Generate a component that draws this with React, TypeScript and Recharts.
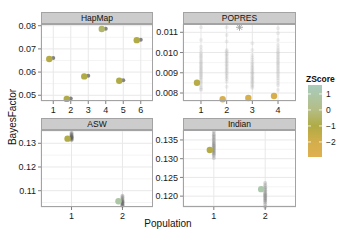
import { ScatterChart, Scatter, XAxis, YAxis, CartesianGrid } from "recharts";

// HapMap
const hapmapPops = [1, 2, 3, 4, 5, 6];
const hapmapBF = [0.06565, 0.04843, 0.05813, 0.07857, 0.05626, 0.07378];
const hapmapZ = [-1.1, -1.0, -1.0, -0.4, -1.0, -1.0];
const hapmapNull = [0.06609, 0.04857, 0.05843, 0.0787, 0.05652, 0.07391];

// POPRES
const popresPops = [1, 2, 3, 4];
const popresBF = [0.008509, 0.007689, 0.007753, 0.007852];
const popresZ = [-1.2, -2.4, -2.3, -2.2];
const popresNull1 = [
  0.01125, 0.01062, 0.01029, 0.01012, 0.00998, 0.0099, 0.00982, 0.00975, 0.00966, 0.00958,
  0.00951, 0.00944, 0.00938, 0.00931, 0.00925, 0.00919, 0.00913, 0.00906, 0.00899, 0.00893,
  0.00886, 0.00879, 0.00874, 0.00866, 0.00857, 0.00849, 0.00838, 0.00829, 0.0082, 0.00815,
];
const popresNull2 = [
  0.01125, 0.01087, 0.01054, 0.01013, 0.01006, 0.00998, 0.00991, 0.00985, 0.00978, 0.0097,
  0.00963, 0.00957, 0.00949, 0.00942, 0.00936, 0.00929, 0.00921, 0.00914, 0.00907, 0.00899,
  0.00892, 0.00884, 0.00876, 0.00868, 0.00856, 0.00831,
];
const popresNull3 = [
  0.01046, 0.01013, 0.00988, 0.00976, 0.00965, 0.00955, 0.00946, 0.00938, 0.0093, 0.00923,
  0.00916, 0.00909, 0.00902, 0.00896, 0.0089, 0.00883, 0.00877, 0.00871, 0.00864, 0.00858,
  0.00852, 0.00845, 0.00838, 0.00831, 0.00825,
];
const popresNull4 = [
  0.0112, 0.01095, 0.01062, 0.01037, 0.01022, 0.01011, 0.01002, 0.00994, 0.00986, 0.00978,
  0.0097, 0.00963, 0.00955, 0.00948, 0.00941, 0.00933, 0.00925, 0.00917, 0.00909, 0.00901,
  0.00892, 0.00883, 0.00873, 0.00862, 0.0085, 0.00838, 0.00815,
];
const popresStarX = [2.5];
const popresStarY = [0.01125];

// ASW
const aswPops = [1, 2];
const aswBF = [0.13196, 0.10554];
const aswZ = [-1.0, 0.9];
const aswNull1 = [0.1344, 0.134, 0.1336, 0.1333, 0.133, 0.1328, 0.1326, 0.1324, 0.1322, 0.132, 0.1318, 0.1316, 0.1313];
const aswNull2 = [0.1079, 0.1072, 0.1066, 0.1061, 0.1057, 0.1054, 0.1051, 0.1048, 0.1045, 0.1042, 0.1039, 0.1037];

// Indian
const indianPops = [1, 2];
const indianBF = [0.13232, 0.12187];
const indianZ = [-1.1, 1.1];
const indianNull1 = [
  0.1372, 0.1366, 0.1362, 0.1358, 0.1354, 0.135, 0.1346, 0.1342, 0.1339, 0.1336,
  0.1333, 0.133, 0.1327, 0.1324, 0.1321, 0.1318, 0.1315, 0.1312, 0.1308, 0.1302,
];
const indianNull2 = [
  0.1235, 0.1229, 0.1224, 0.122, 0.1216, 0.1212, 0.1208, 0.1205, 0.1202, 0.1199,
  0.1196, 0.1193, 0.119, 0.1187, 0.1183, 0.1178, 0.1171,
];

// axis ticks
const hapmapYTicks = [0.05, 0.06, 0.07, 0.08];
const hapmapYLabels = ["0.05", "0.06", "0.07", "0.08"];
const hapmapYMinor = [0.055, 0.065, 0.075];
const popresYTicks = [0.008, 0.009, 0.01, 0.011];
const popresYLabels = ["0.008", "0.009", "0.010", "0.011"];
const popresYMinor = [0.0085, 0.0095, 0.0105];
const aswYTicks = [0.11, 0.12, 0.13];
const aswYLabels = ["0.11", "0.12", "0.13"];
const aswYMinor = [0.105, 0.115, 0.125, 0.135];
const indianYTicks = [0.12, 0.125, 0.13, 0.135];
const indianYLabels = ["0.120", "0.125", "0.130", "0.135"];
const indianYMinor = [0.1175, 0.1225, 0.1275, 0.1325, 0.1375];

// colour scale
const zStops = [-2.94, -2, -1, 0, 1.56];
const zColors = ["#dfb050", "#d3ae4b", "#b0ab45", "#b4bd84", "#a8ccbe"];
const zLegendTicks = [1, 0, -1, -2];
const zLegendLabels = ["1", "0", "\u22121", "\u22122"];

const FONT = "'Liberation Sans', Arial, sans-serif";
const YW = 41;
const XH = 22;
const PAD = 8; // room above the plot so the top tick label is not clipped

function hex(c: string) {
  return [1, 3, 5].map((i) => parseInt(c.slice(i, i + 2), 16));
}

function zColor(z: number) {
  let i = 0;
  while (i < zStops.length - 2 && z > zStops[i + 1]) i++;
  const t = Math.max(0, Math.min(1, (z - zStops[i]) / (zStops[i + 1] - zStops[i])));
  const a = hex(zColors[i]);
  const b = hex(zColors[i + 1]);
  const m = a.map((v, k) => Math.round(v + (b[k] - v) * t));
  return `rgb(${m[0]},${m[1]},${m[2]})`;
}

type Pt = { x: number; y: number; color?: string };

function observed(pops: number[], bf: number[], z: number[]): Pt[] {
  return pops.map((p, i) => ({ x: p, y: bf[i], color: zColor(z[i]) }));
}

function nulls(groups: [number, number[]][]): Pt[] {
  return groups.flatMap(([p, vals]) => vals.map((v) => ({ x: p, y: v })));
}

type PanelProps = {
  title: string;
  left: number;
  top: number;
  width: number;
  height: number;
  xDomain: [number, number];
  xTicks: number[];
  yDomain: [number, number];
  yTicks: number[];
  yLabels: string[];
  yMinor: number[];
  obs: Pt[];
  nul: Pt[];
  nullFill: string;
  nullOpacity: number;
  stars?: Pt[];
};

function Panel(p: PanelProps) {
  const grayDot = (s: any) => (
    <circle cx={s.cx} cy={s.cy} r={2} fill={p.nullFill} fillOpacity={p.nullOpacity} />
  );
  const colorDot = (s: any) => (
    <circle cx={s.cx - 4} cy={s.cy} r={3.2} fill={s.payload.color} />
  );
  const star = (s: any) => {
    const r = 3.5;
    const d = r * 0.707;
    return (
      <g stroke="#a6a6a6" strokeWidth={1}>
        <line x1={s.cx - r} y1={s.cy} x2={s.cx + r} y2={s.cy} />
        <line x1={s.cx} y1={s.cy - r} x2={s.cx} y2={s.cy + r} />
        <line x1={s.cx - d} y1={s.cy - d} x2={s.cx + d} y2={s.cy + d} />
        <line x1={s.cx - d} y1={s.cy + d} x2={s.cx + d} y2={s.cy - d} />
      </g>
    );
  };
  const tickStyle = { fontSize: 9, fill: "#1a1a1a", fontFamily: FONT };
  return (
    <>
      <div style={{ position: "absolute", left: p.left - YW, top: p.top - PAD }}>
        <ScatterChart
          width={p.width + YW}
          height={p.height + XH + PAD}
          margin={{ top: PAD, right: 0, bottom: 0, left: 0 }}
        >
          <CartesianGrid vertical={false} horizontalValues={p.yMinor} stroke="#f4f4f4" />
          <CartesianGrid stroke="#e8e8e8" />
          <XAxis
            type="number"
            dataKey="x"
            domain={p.xDomain}
            ticks={p.xTicks}
            interval={0}
            axisLine={false}
            tickSize={3}
            tickMargin={3}
            height={XH}
            tick={tickStyle}
            tickLine={{ stroke: "#7f7f7f" }}
          />
          <YAxis
            type="number"
            dataKey="y"
            domain={p.yDomain}
            ticks={p.yTicks}
            interval={0}
            tickFormatter={(v: number) => p.yLabels[p.yTicks.indexOf(v)] ?? String(v)}
            axisLine={false}
            tickSize={3}
            tickMargin={2}
            width={YW}
            tick={tickStyle}
            tickLine={{ stroke: "#7f7f7f" }}
          />
          <Scatter data={p.nul} shape={grayDot} isAnimationActive={false} />
          {p.stars && <Scatter data={p.stars} shape={star} isAnimationActive={false} />}
          <Scatter data={p.obs} shape={colorDot} isAnimationActive={false} />
        </ScatterChart>
      </div>
      <div
        style={{
          position: "absolute",
          left: p.left,
          top: p.top,
          width: p.width,
          height: p.height,
          boxSizing: "border-box",
          border: "1px solid #a3a3a3",
          pointerEvents: "none",
        }}
      />
      <div
        style={{
          position: "absolute",
          left: p.left,
          top: p.top - 12.5,
          width: p.width,
          height: 12.5,
          boxSizing: "border-box",
          background: "#cccccc",
          border: "1px solid #a3a3a3",
          fontSize: 8.5,
          lineHeight: "11px",
          textAlign: "center",
          color: "#111",
          fontFamily: FONT,
        }}
      >
        {p.title}
      </div>
    </>
  );
}

export default function App() {
  const lgTop = 85;
  const lgBottom = 157;
  const zMax = zStops[zStops.length - 1];
  const zMin = zStops[0];
  const zy = (z: number) => lgTop + ((zMax - z) / (zMax - zMin)) * (lgBottom - lgTop);

  return (
    <div
      style={{
        position: "absolute",
        left: 0,
        top: 0,
        width: 360,
        height: 240,
        background: "#fff",
        overflow: "hidden",
        fontFamily: FONT,
      }}
    >
      <Panel
        title="HapMap"
        left={41}
        top={24}
        width={112}
        height={77}
        xDomain={[0.3, 6.7]}
        xTicks={hapmapPops}
        yDomain={[0.04752, 0.08074]}
        yTicks={hapmapYTicks}
        yLabels={hapmapYLabels}
        yMinor={hapmapYMinor}
        obs={observed(hapmapPops, hapmapBF, hapmapZ)}
        nul={hapmapPops.map((x, i) => ({ x, y: hapmapNull[i] }))}
        nullFill="#777777"
        nullOpacity={0.9}
      />
      <Panel
        title="POPRES"
        left={183}
        top={24}
        width={113}
        height={77}
        xDomain={[0.3, 4.7]}
        xTicks={popresPops}
        yDomain={[0.007605, 0.01141]}
        yTicks={popresYTicks}
        yLabels={popresYLabels}
        yMinor={popresYMinor}
        obs={observed(popresPops, popresBF, popresZ)}
        nul={nulls([
          [1, popresNull1],
          [2, popresNull2],
          [3, popresNull3],
          [4, popresNull4],
        ])}
        nullFill="#7a7a7a"
        nullOpacity={0.11}
        stars={popresStarX.map((x, i) => ({ x, y: popresStarY[i] }))}
      />
      <Panel
        title="ASW"
        left={41}
        top={130}
        width={112}
        height={77}
        xDomain={[0.4, 2.6]}
        xTicks={aswPops}
        yDomain={[0.10312, 0.13561]}
        yTicks={aswYTicks}
        yLabels={aswYLabels}
        yMinor={aswYMinor}
        obs={observed(aswPops, aswBF, aswZ)}
        nul={nulls([
          [1, aswNull1],
          [2, aswNull2],
        ])}
        nullFill="#555555"
        nullOpacity={0.28}
      />
      <Panel
        title="Indian"
        left={183}
        top={130}
        width={113}
        height={77}
        xDomain={[0.4, 2.6]}
        xTicks={indianPops}
        yDomain={[0.11715, 0.13766]}
        yTicks={indianYTicks}
        yLabels={indianYLabels}
        yMinor={indianYMinor}
        obs={observed(indianPops, indianBF, indianZ)}
        nul={nulls([
          [1, indianNull1],
          [2, indianNull2],
        ])}
        nullFill="#555555"
        nullOpacity={0.22}
      />
      <svg
        width={360}
        height={240}
        style={{ position: "absolute", left: 0, top: 0, pointerEvents: "none" }}
      >
        <defs>
          <linearGradient id="zgrad" x1="0" y1="0" x2="0" y2="1">
            {zStops
              .map((z, i) => (
                <stop key={i} offset={(zMax - z) / (zMax - zMin)} stopColor={zColors[i]} />
              ))
              .reverse()}
          </linearGradient>
        </defs>
        <text x={10} y={111} transform="rotate(-90 16 111)" textAnchor="middle" fontSize={10} fill="#111" fontFamily={FONT}>
          BayesFactor
        </text>
        <text x={168} y={227} textAnchor="middle" fontSize={10} fill="#111" fontFamily={FONT}>
          Population
        </text>
        <text x={306} y={82} fontSize={8.5} fontWeight="bold" fill="#111" fontFamily={FONT}>
          ZScore
        </text>
        <rect x={308} y={lgTop} width={14} height={lgBottom - lgTop} fill="url(#zgrad)" />
        {zLegendTicks.map((z, i) => (
          <g key={z}>
            <line x1={308} x2={311} y1={zy(z)} y2={zy(z)} stroke="#fff" strokeWidth={0.8} />
            <line x1={319} x2={322} y1={zy(z)} y2={zy(z)} stroke="#fff" strokeWidth={0.8} />
            <text x={326} y={zy(z)} dy="0.35em" fontSize={8.5} fill="#1a1a1a" fontFamily={FONT}>
              {zLegendLabels[i]}
            </text>
          </g>
        ))}
      </svg>
    </div>
  );
}
